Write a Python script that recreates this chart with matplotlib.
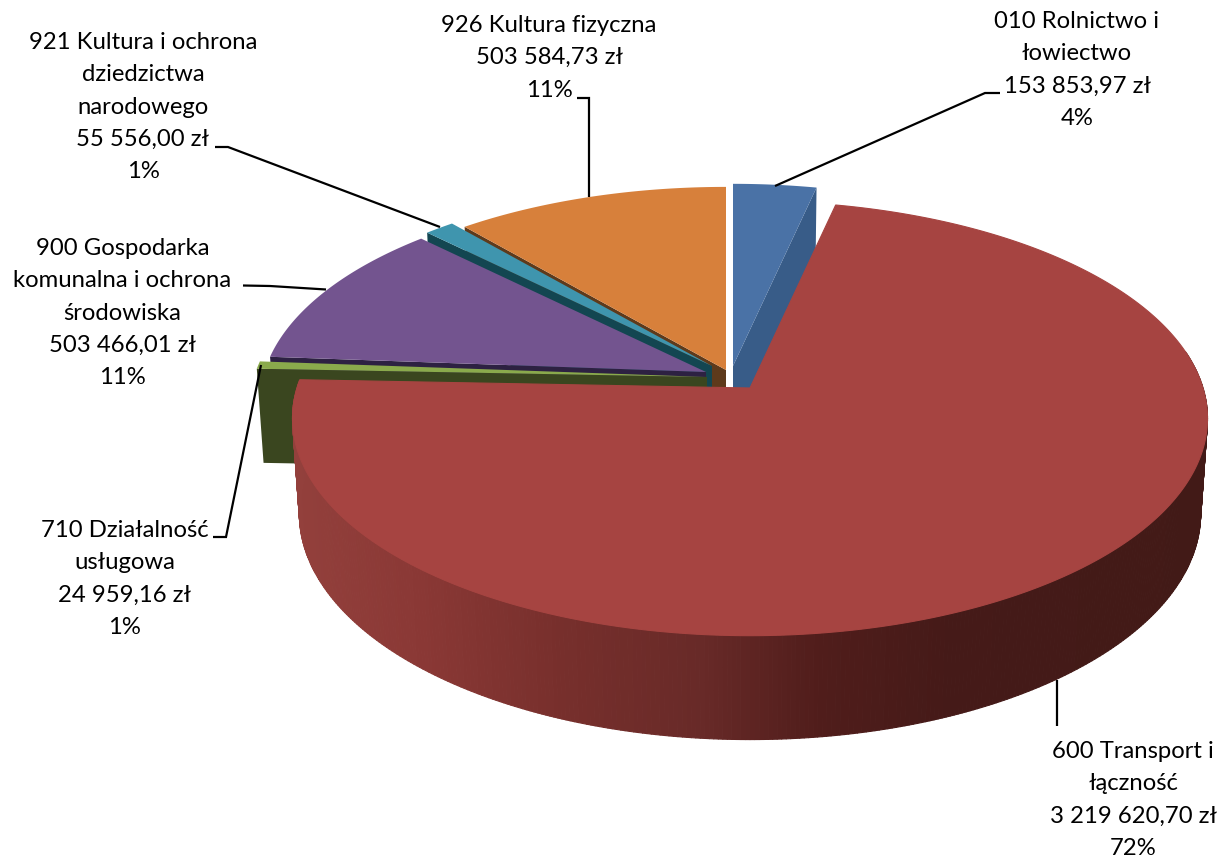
import numpy as np
import matplotlib
matplotlib.use('Agg')
import matplotlib.pyplot as plt
from matplotlib.collections import PolyCollection
from matplotlib.colors import to_rgb
from matplotlib.patches import Polygon

# data, in pie order (clockwise from 12 o'clock)
names = ['010 Rolnictwo i\nłowiectwo', '600 Transport i\nłączność', '710 Działalność\nusługowa',
         '900 Gospodarka\nkomunalna i ochrona\nśrodowiska', '921 Kultura i ochrona\ndziedzictwa\nnarodowego',
         '926 Kultura fizyczna']
values = [153853.97, 3219620.70, 24959.16, 503466.01, 55556.00, 503584.73]
percents = ['4%', '72%', '1%', '11%', '1%', '11%']

top_colors = ['#4A72A6', '#A64441', '#8AAA4C', '#73548F', '#3F95AE', '#D7803B']
wall_colors = ['#385C88', '#7A2F2D', '#3A461F', '#2D2142', '#134651', '#5E3A1B']

# layout, pixels (label y is the baseline of the first line)
apex = [(733, 366), (750, 388), (707, 377), (706, 372), (712, 366), (726, 370)]
scale = [0.975, 1.0, 1.0, 0.975, 0.975, 0.98]
label_pos = [(1077, 28), (1133, 758), (124.5, 537), (122.5, 255), (143, 49), (549, 32)]
leaders = [[(1000, 93), (985, 93), (775, 186)],
           [(1057, 680), (1057, 726)],
           [(213, 537), (226, 537), (261, 365)],
           [(243, 285.5), (270, 286), (326, 289.5)],
           [(215, 147), (228, 147), (440, 227)],
           [(577, 98), (589, 98), (589, 197)]]
A, B, K = 453.0, 213.0, 0.14
DEPTH = 94.0
BOTTOM_X, BOTTOM_Y = 0.985, 1.04
LINE_H = 32.3

red_grad_x = [290, 420, 560, 700, 820, 950, 1210]
red_grad_c = ['#93403C', '#8A3835', '#772F2C', '#682A28', '#501D1B', '#451A18', '#421A17']


def project(ang, ctr, s=1.0, sy=1.0):
    """Perspective disc point for angle(s) in degrees clockwise from the top."""
    a = np.radians(ang)
    X, Y = np.sin(a), np.cos(a)
    w = 1 + K * Y
    return np.column_stack([ctr[0] + s * A * X / w, ctr[1] - s * sy * B * Y / w])


def wedge(a0, a1, ctr, s):
    n = max(3, int(abs(a1 - a0)) * 2)
    return np.vstack([[ctr], project(np.linspace(a0, a1, n), ctr, s)])


def cut_face(ang, ctr, s):
    outer = project(ang, ctr, s)[0]
    low = np.array([ctr[0], ctr[1] + DEPTH])
    outer_low = project(ang, low, s * BOTTOM_X)[0]
    return np.array([ctr, outer, outer_low, low])


fig = plt.figure(figsize=(12.25, 8.61), dpi=100)
ax = fig.add_axes([0, 0, 1, 1])
ax.set_xlim(0, 1225)
ax.set_ylim(861, 0)
ax.axis('off')

edges = np.concatenate([[0], np.cumsum(values)]) / np.sum(values) * 360

# back slices first, each one covers the cut face of the previous
for i in [5, 4, 3, 2]:
    ax.add_patch(Polygon(cut_face(edges[i], apex[i], scale[i]), fc=wall_colors[i], ec='none'))
    ax.add_patch(Polygon(wedge(edges[i], edges[i + 1], apex[i], scale[i]), fc=top_colors[i], ec='none'))

# blue slice shows its right hand cut
ax.add_patch(Polygon(cut_face(edges[1], apex[0], scale[0]), fc=wall_colors[0], ec='none'))
ax.add_patch(Polygon(wedge(edges[0], edges[1], apex[0], scale[0]), fc=top_colors[0], ec='none'))

# big red slice, rim as thin strips with a horizontal gradient
# (only the part that faces the viewer, the back of the rim is hidden anyway)
rgb = np.array([to_rgb(c) for c in red_grad_c])
angs = np.arange(80, edges[2], 0.5)
up = project(angs, apex[1])
lo = project(angs, (apex[1][0], apex[1][1] + DEPTH), BOTTOM_X, BOTTOM_Y / BOTTOM_X)
strips, cols = [], []
for j in range(len(angs) - 1):
    strips.append([up[j], up[j + 1], lo[j + 1], lo[j]])
    xm = (up[j, 0] + up[j + 1, 0]) / 2
    cols.append([np.interp(xm, red_grad_x, rgb[:, c]) for c in range(3)])
ax.add_collection(PolyCollection(strips, facecolors=cols, edgecolors=cols, linewidths=0.8))
ax.add_patch(Polygon(wedge(edges[1], edges[2], apex[1], scale[1]), fc=top_colors[1], ec=top_colors[1], lw=0.8))

# leader lines
for pts in leaders:
    xs, ys = zip(*pts)
    ax.plot(xs, ys, color='black', lw=1.6, solid_joinstyle='miter', solid_capstyle='butt')

# labels
for i, (x, y) in enumerate(label_pos):
    amount = f'{values[i]:,.2f}'.replace(',', ' ').replace('.', ',') + ' zł'
    lines = names[i].split('\n') + [amount, percents[i]]
    for n, line in enumerate(lines):
        ax.text(x, y + n * LINE_H, line, ha='center', va='baseline', fontsize=17.2,
                family='Lato', color='black')

fig.savefig('out.png', dpi=100)
